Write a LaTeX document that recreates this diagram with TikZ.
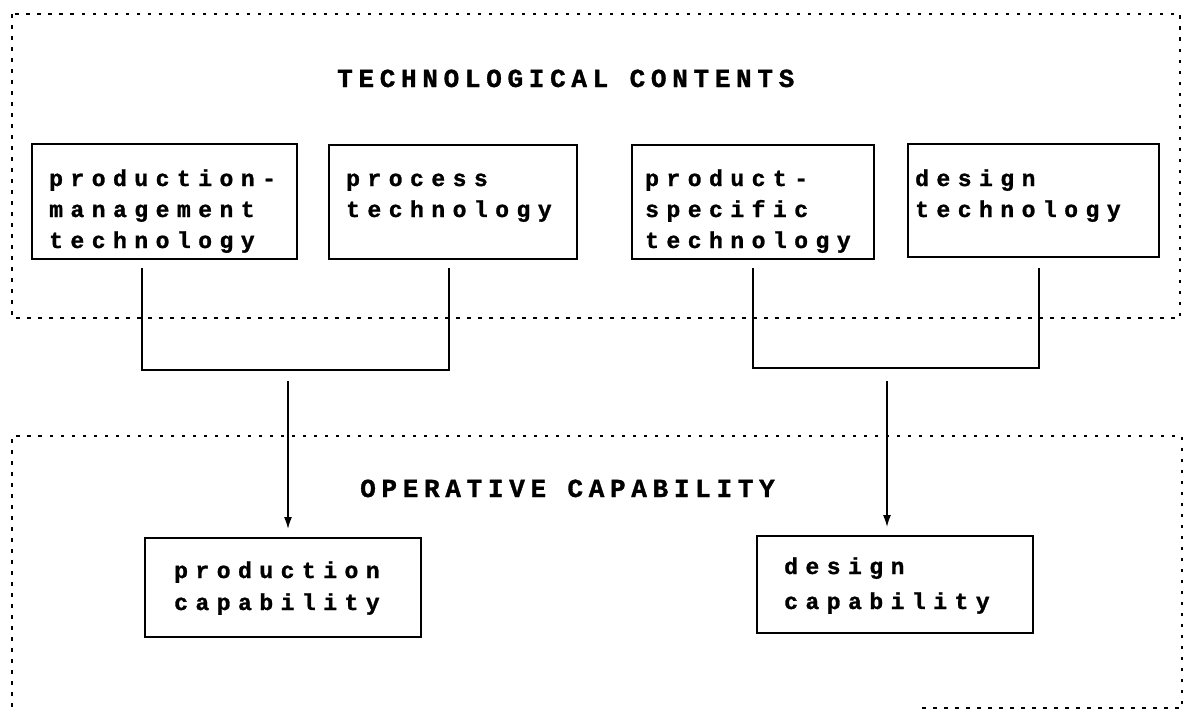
\documentclass[tikz,border=0pt]{standalone}
\usepackage{fontspec}
\usetikzlibrary{arrows.meta}
% wide-pitched heavy mono faces, about 21.3pt per character
\newfontfamily\boxfont[LetterSpace=32.6,FakeBold=1.2]{Liberation Mono Bold}
\newfontfamily\headfont[LetterSpace=21.9,FakeBold=1.2]{Liberation Mono Bold}
\tikzset{
  frame/.style={line width=1.6pt, dash pattern=on 3.5pt off 7.5pt},
  techbox/.style={draw, line width=1.8pt, inner sep=0pt},
  % anchored at the baseline of the last line
  boxtext/.style={anchor=base west, inner sep=0pt, align=left,
    font=\boxfont\fontsize{23pt}{31pt}\selectfont},
  headtext/.style={anchor=base west, inner sep=0pt,
    font=\headfont\fontsize{26pt}{26pt}\selectfont},
  link/.style={line width=1.5pt},
  flow/.style={line width=1.5pt, -{Latex[length=12pt,width=8pt]}, shorten >=8pt},
}
\begin{document}
\begin{tikzpicture}[x=1pt,y=-1pt]
\useasboundingbox (0,0) rectangle (1185,712);

% upper frame: technological contents
\draw[frame] (12,14) rectangle (1180,318);
\node[headtext] (techhead) at (337,87) {TECHNOLOGICAL CONTENTS};

% technology boxes
\node[techbox, minimum width=265pt, minimum height=115pt, anchor=north west] (pmt) at (31,143) {};
\node[techbox, minimum width=248pt, minimum height=114pt, anchor=north west] (proc) at (328,144) {};
\node[techbox, minimum width=242pt, minimum height=114pt, anchor=north west] (pst) at (631,144) {};
\node[techbox, minimum width=251pt, minimum height=113pt, anchor=north west] (dest) at (907,143) {};

\node[boxtext] (pmt-t) at (49,248) {production-\\management\\technology};
\node[boxtext] (proc-t) at (346,217) {process\\technology};
\node[boxtext] (pst-t) at (645,248) {product-\\specific\\technology};
\node[boxtext] (dest-t) at (915,217) {design\\technology};

% lower frame: operative capability
\draw[frame] (922,708) -- (1182,708) -- (1182,436) -- (12,436) -- (12,712);
\node[headtext] (ophead) at (360,497) {OPERATIVE CAPABILITY};

% capability boxes
\node[techbox, minimum width=276pt, minimum height=99pt, anchor=north west] (prodcap) at (144,537) {};
\node[techbox, minimum width=276pt, minimum height=97pt, anchor=north west] (descap) at (756,535) {};

\node[boxtext, font=\boxfont\fontsize{23pt}{32pt}\selectfont] (prodcap-t) at (174,610) {production\\capability};
\node[boxtext, font=\boxfont\fontsize{23pt}{35pt}\selectfont] (descap-t) at (784,609) {design\\capability};

% connector feet and junctions
\coordinate (pmt-foot) at (142,268);
\coordinate (proc-foot) at (449,268);
\coordinate (prod-join) at (142,370);
\coordinate (prod-src) at (288,381);
\coordinate (pst-foot) at (753,268);
\coordinate (dest-foot) at (1039,268);
\coordinate (des-join) at (753,368);
\coordinate (des-src) at (887,381);

\draw[link] (pmt-foot) -- (prod-join) -| (proc-foot);
\draw[link] (pst-foot) -- (des-join) -| (dest-foot);

\draw[flow] (prod-src) -- (prod-src |- prodcap.north);
\draw[flow] (des-src) -- (des-src |- descap.north);
\end{tikzpicture}
\end{document}
